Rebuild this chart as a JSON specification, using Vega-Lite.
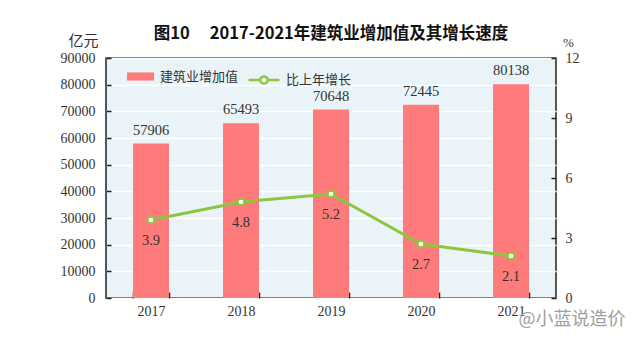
{
  "$schema": "https://vega.github.io/schema/vega-lite/v6.json",
  "width": 450,
  "height": 240,
  "autosize": {"type": "none"},
  "padding": {"left": 106, "top": 58, "right": 85, "bottom": 42},
  "background": "white",
  "title": {
    "text": "图10\u3000 2017-2021年建筑业增加值及其增长速度",
    "font": "Noto Sans CJK SC",
    "fontSize": 16.5,
    "fontWeight": "bold",
    "color": "#111111",
    "anchor": "middle",
    "offset": -9
  },
  "config": {
    "view": {"fill": "#eaf4f8", "stroke": "#222222", "strokeWidth": 1.5},
    "axis": {
      "labelFont": "Liberation Serif",
      "labelFontSize": 14,
      "labelColor": "#333333",
      "labelOverlap": false,
      "domain": false,
      "tickColor": "#222222",
      "tickWidth": 1.5
    },
    "legend": {
      "labelFont": "Noto Sans CJK SC",
      "labelFontSize": 13,
      "labelColor": "#333333",
      "padding": 0
    }
  },
  "data": {
    "values": [
      {"year": "2017", "value": 57906, "rate": 3.9},
      {"year": "2018", "value": 65493, "rate": 4.8},
      {"year": "2019", "value": 70648, "rate": 5.2},
      {"year": "2020", "value": 72445, "rate": 2.7},
      {"year": "2021", "value": 80138, "rate": 2.1}
    ]
  },
  "encoding": {
    "x": {
      "field": "year",
      "type": "nominal",
      "scale": {"paddingInner": 0.6, "paddingOuter": 0.3},
      "axis": {
        "labelAngle": 0,
        "tickBand": "extent",
        "tickSize": -6,
        "labelPadding": 12,
        "title": "@小蓝说造价",
        "titleFont": "Noto Sans CJK SC",
        "titleFontSize": 18,
        "titleFontWeight": "normal",
        "titleColor": "#a0a0a0",
        "titleAnchor": "start",
        "titleAlign": "left",
        "titleBaseline": "middle",
        "titleX": 412,
        "titleY": 21
      }
    }
  },
  "layer": [
    {
      "encoding": {
        "y": {
          "field": "value",
          "type": "quantitative",
          "scale": {"domain": [0, 90000], "nice": false},
          "axis": {
            "values": [0, 10000, 20000, 30000, 40000, 50000, 60000, 70000, 80000, 90000],
            "tickCount": 10,
            "format": "d",
            "grid": true,
            "gridColor": "white",
            "gridWidth": 1.5,
            "tickSize": -5,
            "labelPadding": 16,
            "title": "亿元",
            "titleFont": "Noto Sans CJK SC",
            "titleFontSize": 15,
            "titleFontWeight": "normal",
            "titleColor": "#333333",
            "titleAngle": 0,
            "titleAlign": "center",
            "titleBaseline": "middle",
            "titleX": -23,
            "titleY": -18
          }
        }
      },
      "layer": [
        {
          "mark": {"type": "bar"},
          "encoding": {
            "fill": {
              "datum": "建筑业增加值",
              "scale": {"range": ["#ff7b7b"]},
              "legend": {
                "title": null,
                "orient": "none",
                "legendX": 21,
                "legendY": 5,
                "symbolType": "M-1,-0.3H1V0.3H-1Z",
                "symbolSize": 729,
                "symbolStrokeWidth": 0,
                "labelOffset": 6
              }
            }
          }
        },
        {
          "mark": {"type": "text", "dy": -13, "font": "Liberation Serif", "fontSize": 14.5, "color": "#333333"},
          "encoding": {
            "text": {"field": "value", "type": "quantitative", "format": "d"}
          }
        }
      ]
    },
    {
      "encoding": {
        "y": {
          "field": "rate",
          "type": "quantitative",
          "scale": {"domain": [0, 12], "nice": false},
          "axis": {
            "orient": "right",
            "values": [0, 3, 6, 9, 12],
            "grid": false,
            "tickSize": -5,
            "labelPadding": 14,
            "title": "%",
            "titleFont": "Liberation Serif",
            "titleFontSize": 13,
            "titleFontWeight": "normal",
            "titleColor": "#333333",
            "titleAngle": 0,
            "titleAlign": "center",
            "titleBaseline": "middle",
            "titleX": 12,
            "titleY": -16
          }
        }
      },
      "layer": [
        {
          "mark": {"type": "line", "strokeWidth": 3},
          "encoding": {
            "stroke": {
              "datum": "比上年增长",
              "scale": {"range": ["#8cc63f"]},
              "legend": {
                "title": null,
                "orient": "none",
                "legendX": 141,
                "legendY": 5,
                "symbolType": "M-1,0H-0.23A0.23,0.23 0 1,1 0.23,0A0.23,0.23 0 1,1 -0.23,0M0.23,0H1",
                "symbolSize": 961,
                "symbolStrokeWidth": 2.5,
                "symbolFillColor": "white",
                "labelOffset": 5
              }
            }
          }
        },
        {
          "mark": {"type": "point", "filled": true, "fill": "white", "stroke": "#8cc63f", "strokeWidth": 2, "size": 45, "opacity": 1}
        },
        {
          "mark": {"type": "text", "dy": 21, "font": "Liberation Serif", "fontSize": 14.5, "color": "#333333"},
          "encoding": {
            "text": {"field": "rate", "type": "quantitative", "format": ".1f"}
          }
        }
      ]
    }
  ],
  "resolve": {"scale": {"y": "independent"}}
}
